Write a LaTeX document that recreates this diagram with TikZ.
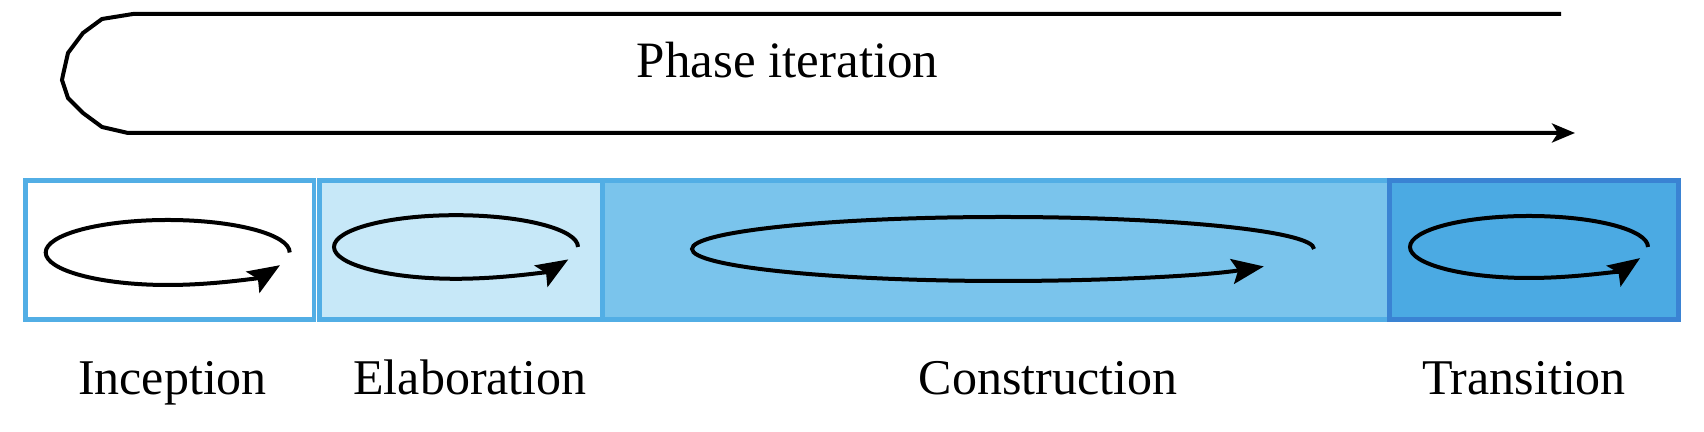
\documentclass[tikz,border=0pt]{standalone}
\usepackage{fontspec}
\setmainfont{Liberation Serif}
\usetikzlibrary{arrows.meta}
\definecolor{edgeblue}{RGB}{82,174,229}
\definecolor{darkedge}{RGB}{58,131,211}
\definecolor{fillA}{RGB}{199,232,248}
\definecolor{fillB}{RGB}{122,196,236}
\definecolor{fillC}{RGB}{75,170,227}
\begin{document}
\begin{tikzpicture}[x=0.5pt,y=0.5pt,
  phasebox/.style={draw=edgeblue, line width=2.25pt, rectangle, inner sep=0pt, outer sep=0pt, minimum height=69.5pt},
  loopline/.style={line width=2pt, -{Stealth[length=16pt,width=12.5pt,inset=3pt]}},
  bigloop/.style={line width=2pt, line join=miter, -{Stealth[length=11.5pt,width=9.5pt,inset=3pt]}},
  phaselabel/.style={anchor=base, inner sep=0pt, font=\fontsize{25}{29}\selectfont},
  titlelabel/.style={anchor=base, inner sep=0pt, font=\fontsize{25.5}{30}\selectfont}]
\useasboundingbox (0,0) rectangle (1704,432);
% top iteration loop
\coordinate (tstart) at (1561,418);
\coordinate (tend) at (1575,299);
\draw[bigloop] (tstart) -- (133,418) -- (102,413) -- (83,399) -- (68,379) -- (63,357) -- (62,352) -- (68,334) -- (83,319) -- (102,305) -- (128,299) -- (tend);
\node[titlelabel] (title) at (787.5,354) {Phase iteration};
% phase boxes
\node[phasebox, fill=white, minimum width=144.25pt] (b1) at (169.75,182) {};
\node[phasebox, fill=fillA, minimum width=141.5pt] (b2) at (461,182) {};
\node[phasebox, fill=fillB, minimum width=393.5pt] (b3) at (996,182) {};
\node[phasebox, draw=darkedge, fill=fillC, minimum width=144.5pt] (b4) at (1534,182) {};
% iteration loops inside boxes
\coordinate (e1) at (289.7,179.5);
\coordinate (e2) at (578,185);
\coordinate (e3) at (1314,183);
\coordinate (e4) at (1648,185);
\draw[loopline] (e1) arc[start angle=0, end angle=337, x radius=61pt, y radius=16.25pt];
\draw[loopline] (e2) arc[start angle=0, end angle=337, x radius=61pt, y radius=15.9pt];
\draw[loopline] (e3) arc[start angle=0, end angle=327, x radius=155.5pt, y radius=16pt];
\draw[loopline] (e4) arc[start angle=0, end angle=339, x radius=59.5pt, y radius=15.5pt];
% labels
\node[phaselabel] (l1) at (172.5,37) {Inception};
\node[phaselabel] (l2) at (470,37) {Elaboration};
\node[phaselabel] (l3) at (1048,37) {Construction};
\node[phaselabel] (l4) at (1524,37) {Transition};
\end{tikzpicture}
\end{document}
